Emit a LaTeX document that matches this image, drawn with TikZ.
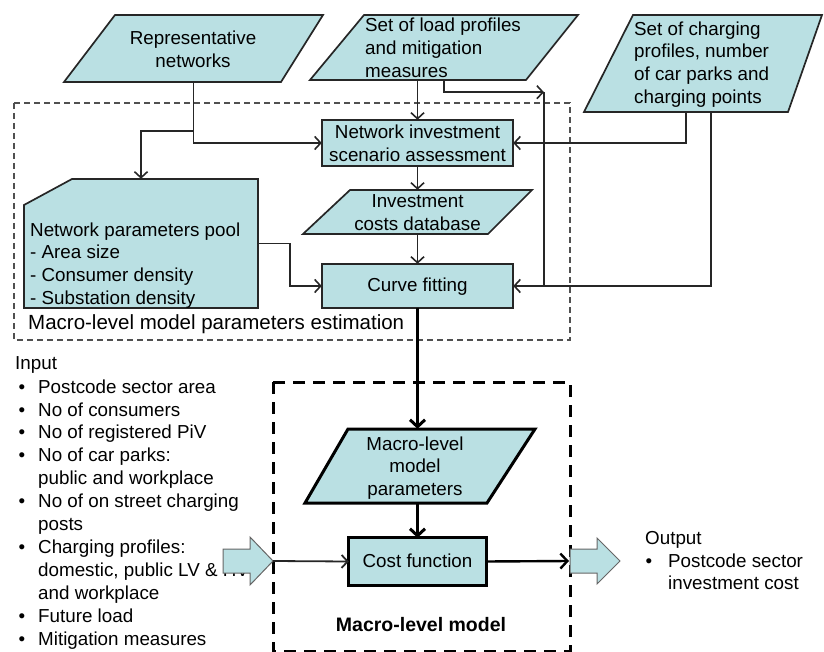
\documentclass[tikz,border=0pt]{standalone}
\usepackage{fontspec}
\setmainfont{Liberation Sans}
\usetikzlibrary{arrows.meta,calc}
\definecolor{fillc}{HTML}{BAE0E3}
\definecolor{linec}{HTML}{262626}
\definecolor{dashc}{HTML}{505050}
\begin{document}
\begin{tikzpicture}[x=1pt,y=-1pt,
  shp/.style={draw=linec,fill=fillc,line width=1.7pt,line join=miter},
  shpb/.style={draw=black,fill=fillc,line width=3pt,line join=miter},
  barrow/.style={draw=black!60,fill=fillc,line width=1pt,line join=miter},
  txt/.style={inner sep=0pt,font=\fontsize{18.8}{22.8}\selectfont},
  hold/.style={inner sep=0pt,draw=none},
  conn/.style={draw=linec,line width=1.6pt,-{Straight Barb[length=6pt,width=13pt]}},
  plain/.style={draw=linec,line width=1.6pt},
  connb/.style={draw=black,line width=3pt,-{Straight Barb[length=7pt,width=15pt]}},
]
\useasboundingbox (0,0) rectangle (824,652);

% dashed groups
\draw[dashc,line width=1.4pt,dash pattern=on 6pt off 4pt] (14,103) rectangle (570,340);
\draw[black,line width=3pt,dash pattern=on 12pt off 8pt] (273,382) rectangle (570,651);

% holder nodes (bounding boxes of the shapes)
\node[hold,minimum width=259pt,minimum height=67pt] (rep) at (193.5,48.5) {};
\node[hold,minimum width=268pt,minimum height=65pt] (lp) at (444,47.5) {};
\node[hold,minimum width=238pt,minimum height=97pt] (cp) at (703,63.5) {};
\node[hold,minimum width=191pt,minimum height=46pt] (ni) at (417.5,143) {};
\node[hold,minimum width=229pt,minimum height=44pt] (ic) at (417.5,212) {};
\node[hold,minimum width=191pt,minimum height=44pt] (cf) at (417.5,286) {};
\node[hold,minimum width=234pt,minimum height=129pt] (pool) at (141,243.5) {};
\node[hold,minimum width=230pt,minimum height=74pt] (mp) at (420,466) {};
\node[hold,minimum width=137pt,minimum height=47pt] (costf) at (417.5,561.5) {};

% shapes
\path[shp] (115,15) -- (323,15) -- (281,82) -- (64,82) -- cycle;
\path[shp] (364,15) -- (578,15) -- (526,80) -- (310,80) -- cycle;
\path[shp] (633,15) -- (822,15) -- (788,112) -- (584,112) -- cycle;
\path[shp] (ni.north west) rectangle (ni.south east);
\path[shp] (350,190) -- (532,190) -- (488,234) -- (303,234) -- cycle;
\path[shp] (cf.north west) rectangle (cf.south east);
\path[shp] (72,179) -- (258,179) -- (258,308) -- (24,308) -- (24,205) -- cycle;
\path[shpb] (348,429) -- (535,429) -- (487,503) -- (305,503) -- cycle;
\path[shpb] (costf.north west) rectangle (costf.south east);

% connectors
\coordinate (b1) at ($(rep.south)+(0,49)$);
\draw[conn] (rep.south) |- (ni.west);
\draw[conn] (b1) -| (pool.north);
\draw[conn] (lp.south -| ni.north) -- (ni.north);
\coordinate (j1) at ($(lp.south)+(100,12)$);
\draw[conn] (lp.south) |- (j1);
\draw[plain] (j1) -- (j1 |- cf.east);
\coordinate (c1) at ($(cp.south)+(-17,0)$);
\coordinate (c2) at ($(cp.south)+(8,0)$);
\draw[conn] (c1) |- (ni.east);
\draw[conn] (c2) |- (cf.east);
\draw[conn] (ni.south) -- (ic.north);
\draw[conn] (ic.south) -- (ic.south |- cf.north);
\draw[conn] (pool.east) -- ++(32,0) |- (cf.west);
\draw[connb] (cf.south) -- (cf.south |- mp.north);
\draw[connb] (mp.south -| costf.north) -- (costf.north);

% texts
\node[txt,align=center] (rept) at (193,49) {Representative\\networks};
\node[txt,align=left,anchor=west] (lpt) at (365,47.5) {Set of load profiles\\and mitigation\\measures};
\node[txt,align=left,anchor=west] (cpt) at (634,64.5) {Set of charging\\profiles, number\\of car parks and\\charging points};
\node[txt,align=center] (nit) at (417.5,143) {Network investment\\scenario assessment};
\node[txt,align=center] (ict) at (417.5,213) {Investment\\costs database};
\node[txt] (cft) at (417.5,287) {Curve fitting};
\node[txt,align=left,anchor=west] (poolt) at (30,265.5) {Network parameters pool\\- Area size\\- Consumer density\\- Substation density};
\node[txt,anchor=west,font=\fontsize{20.5}{24}\selectfont] (est) at (28,324) {Macro-level model parameters estimation};
\node[txt,align=center] (mpt) at (415,468) {Macro-level\\model\\parameters};
\node[txt] (cost) at (417.5,561) {Cost function};
\node[txt,font=\bfseries\fontsize{19.5}{23}\selectfont] (mlm) at (421,625) {Macro-level model};

% input list
\node[txt,anchor=base west] (in0) at (15,369.5) {Input};
\foreach \yy/\bb/\tt [count=\i] in {
  393.5/1/{Postcode sector area},
  416/1/{No of consumers},
  438.5/1/{No of registered PiV},
  461.5/1/{No of car parks:},
  484.5/0/{public and workplace},
  507.5/1/{No of on street charging},
  530.5/0/{posts},
  553.5/1/{Charging profiles:},
  576.5/0/{domestic, public LV \& HV},
  599.5/0/{and workplace},
  622.5/1/{Future load},
  645.5/1/{Mitigation measures}}{
  \node[txt,anchor=base west] (in\i) at (38,\yy) {\tt};
  \ifnum\bb=1 \node[txt,anchor=base] (bu\i) at (22,\yy) {\textbullet}; \fi
}

% output text
\node[txt,anchor=base west] (out0) at (645,544.5) {Output};
\node[txt,anchor=base] (ob) at (649,567.5) {\textbullet};
\node[txt,anchor=base west,align=left] (out1) at (668,567.5) {Postcode sector};
\node[txt,anchor=base west] (out2) at (668,589.5) {investment cost};

% block arrows
\path[barrow] (223,549) -- (250,549) -- (250,537) -- (273,561) -- (250,585) -- (250,573) -- (223,573) -- cycle;
\coordinate (intip) at (273,561);
\path[barrow] (570,549) -- (597,549) -- (597,538) -- (620,561) -- (597,584) -- (597,573) -- (570,573) -- cycle;
\coordinate (outtail) at (569,561);
\draw[conn,line width=1.8pt] (intip) -- (costf.west);
\draw[connb,line width=2.4pt] (costf.east) -- (outtail);
\end{tikzpicture}
\end{document}
